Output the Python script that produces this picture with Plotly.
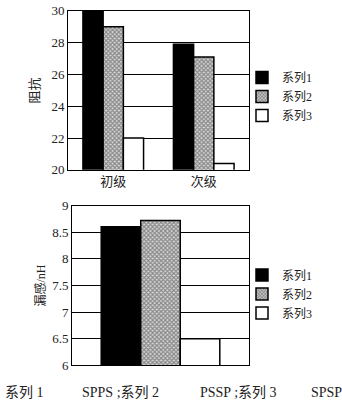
import plotly.graph_objects as go

W, H = 342, 413

# ---- data ----
categories_top = ["初级", "次级"]
impedance_s1 = [30.0, 27.9]
impedance_s2 = [29.0, 27.1]
impedance_s3 = [22.0, 20.4]

categories_bottom = ["漏感"]
leak_s1 = [8.6]
leak_s2 = [8.72]
leak_s3 = [6.5]

series_names = ["系列1", "系列2", "系列3"]
top_ticks = [20, 22, 24, 26, 28, 30]
bottom_ticks = [6, 6.5, 7, 7.5, 8, 8.5, 9]
bottom_tick_text = ["6", "6.5", "7", "7.5", "8", "8.5", "9"]

footnote = [("系列 1", 3), ("SPPS ;系列 2", 80), ("PSSP ;系列 3", 198), ("SPSP", 309)]

FONT = "Liberation Serif, Noto Sans CJK SC, serif"

def px_x(p):
    return p / W

def px_y(p):
    return 1 - p / H

styles = [
    dict(color="black", line=dict(color="black", width=1.5)),
    dict(color="white", line=dict(color="black", width=1.5),
         pattern=dict(shape="x", size=3, solidity=0.6, fgcolor="#333333", bgcolor="#d8d8d8")),
    dict(color="white", line=dict(color="black", width=1.5)),
]

fig = go.Figure()
for name, vals, st in zip(series_names, [impedance_s1, impedance_s2, impedance_s3], styles):
    fig.add_trace(go.Bar(x=categories_top, y=vals, name=name, marker=st,
                         xaxis="x", yaxis="y", legend="legend"))
for name, vals, st in zip(series_names, [leak_s1, leak_s2, leak_s3], styles):
    fig.add_trace(go.Bar(x=categories_bottom, y=vals, name=name, marker=st,
                         xaxis="x2", yaxis="y2", legend="legend2"))

axis_common = dict(showline=True, linecolor="black", linewidth=1, mirror=True,
                   ticks="", fixedrange=True)

fig.update_layout(
    width=W, height=H,
    margin=dict(l=0, r=0, t=0, b=0),
    paper_bgcolor="white", plot_bgcolor="white",
    barmode="group", bargap=0.33, bargroupgap=0,
    font=dict(family=FONT, size=12, color="#222"),
    xaxis=dict(domain=[px_x(68), px_x(249)], anchor="y", showgrid=False,
               tickfont=dict(size=13), **axis_common),
    yaxis=dict(domain=[px_y(169), px_y(4)], anchor="x", range=[20, 30],
               tickvals=top_ticks, showgrid=True, gridcolor="black", gridwidth=1,
               tickfont=dict(size=13),
               title=dict(text="阻抗", font=dict(size=13), standoff=8), **axis_common),
    xaxis2=dict(domain=[px_x(72), px_x(249)], anchor="y2", showgrid=False,
                showticklabels=False, **axis_common),
    yaxis2=dict(domain=[px_y(372), px_y(206)], anchor="x2", range=[6, 9],
                tickvals=bottom_ticks, ticktext=bottom_tick_text,
                showgrid=True, gridcolor="black", gridwidth=1,
                tickfont=dict(size=13),
                title=dict(text="漏感/nH", font=dict(size=12), standoff=3), **axis_common),
    legend=dict(x=px_x(242), y=px_y(58), xanchor="left", yanchor="top",
                font=dict(size=12), itemwidth=30, bgcolor="rgba(0,0,0,0)",
                tracegroupgap=0),
    legend2=dict(x=px_x(242), y=px_y(263), xanchor="left", yanchor="top",
                 font=dict(size=12), itemwidth=30, bgcolor="rgba(0,0,0,0)",
                 tracegroupgap=0),
    showlegend=True,
)

for text, xpos in footnote:
    fig.add_annotation(text=text, x=px_x(xpos), y=px_y(400), xref="paper", yref="paper",
                       xanchor="left", yanchor="middle", showarrow=False,
                       font=dict(size=14, color="#222", family=FONT))

fig.write_html("out.html")
